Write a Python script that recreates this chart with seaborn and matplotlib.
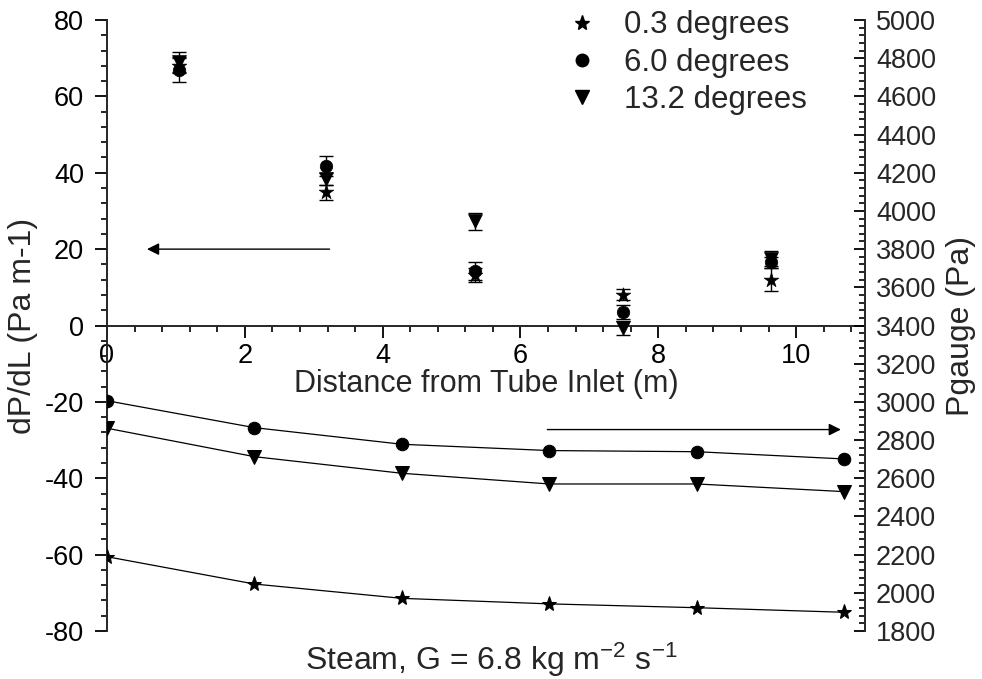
import numpy as np
import pandas as pd
import seaborn as sns
import matplotlib
matplotlib.use("Agg")
import matplotlib.pyplot as plt
from matplotlib.ticker import MultipleLocator
from matplotlib.lines import Line2D

# ---------------- data ----------------
angles = ["0.3 degrees", "6.0 degrees", "13.2 degrees"]
markers = ["*", "o", "v"]
msizes = [11, 9, 10]

# Pressure gradient (left axis)
x_grad = [1.04, 3.18, 5.34, 7.49, 9.64]
grad_03 = [68.0, 34.9, 13.3, 8.1, 12.0]
err_03 = [2.0, 2.0, 1.8, 1.5, 3.0]
grad_60 = [67.0, 41.8, 14.2, 3.5, 16.5]
err_60 = [3.2, 2.6, 2.3, 1.8, 1.5]
grad_132 = [69.0, 38.4, 27.3, -0.6, 17.5]
err_132 = [2.5, 1.5, 2.2, 1.8, 2.0]

# Gauge pressure (right axis)
x_pres = [0.0, 2.14, 4.28, 6.42, 8.56, 10.7]
pres_03 = [2189, 2046, 1971, 1942, 1922, 1898]
pres_60 = [3006, 2865, 2778, 2745, 2739, 2701]
pres_132 = [2862, 2713, 2626, 2570, 2570, 2530]

grads = [grad_03, grad_60, grad_132]
errs = [err_03, err_60, err_132]
press = [pres_03, pres_60, pres_132]

# ---------------- style ----------------
sns.set_theme(style="ticks")
plt.rcParams["font.family"] = ["Liberation Sans", "DejaVu Sans"]
plt.rcParams["axes.linewidth"] = 1.4
plt.rcParams["axes.unicode_minus"] = False
plt.rcParams["mathtext.fontset"] = "custom"
plt.rcParams["mathtext.rm"] = "Liberation Sans"
plt.rcParams["mathtext.default"] = "regular"
FS_TICK = 19.5
FS_XLAB = 22
FS_YLAB = 23
FS_LEG = 22.5

fig = plt.figure(figsize=(9.82, 6.79), dpi=100)
ax = fig.add_axes([107/982, 1-631/679, (865-107)/982, (631-20)/679])
ax2 = ax.twinx()

# upper: gradient with error bars
for g, e, m, ms in zip(grads, errs, markers, msizes):
    ax.errorbar(x_grad, g, yerr=e, fmt="none", ecolor="black",
                elinewidth=1.0, capsize=5, capthick=1.0, zorder=2)
    dfg = pd.DataFrame({"x": x_grad, "y": g})
    sns.scatterplot(data=dfg, x="x", y="y", marker=m, s=ms**2,
                    color="black", edgecolor="black", linewidth=0.5,
                    ax=ax, zorder=3, legend=False)

# lower: gauge pressure lines
for p, m, ms in zip(press, markers, msizes):
    dfp = pd.DataFrame({"x": x_pres, "y": p})
    sns.lineplot(data=dfp, x="x", y="y", marker=m, markersize=ms,
                 color="black", linewidth=0.9, markeredgecolor="black",
                 ax=ax2, legend=False)

# ---------------- axes ----------------
ax.set_xlim(0, 11)
ax.set_ylim(-80, 80)
ax2.set_ylim(1800, 5000)

ax.spines["bottom"].set_position(("data", 0))
ax.spines["top"].set_visible(False)
ax.spines["right"].set_visible(False)
ax2.spines["top"].set_visible(False)
ax2.spines["bottom"].set_visible(False)
ax2.spines["left"].set_visible(False)
for sp in ax2.spines.values():
    sp.set_linewidth(1.4)

ax.xaxis.set_major_locator(MultipleLocator(2))
ax.xaxis.set_minor_locator(MultipleLocator(0.4))
ax.yaxis.set_major_locator(MultipleLocator(20))
ax.yaxis.set_minor_locator(MultipleLocator(4))
ax2.yaxis.set_major_locator(MultipleLocator(200))
ax2.yaxis.set_minor_locator(MultipleLocator(40))

ax.tick_params(axis="both", which="major", direction="out", length=8.5,
               width=1.3, labelsize=FS_TICK, color="black", labelcolor="black")
ax.tick_params(axis="y", which="major", pad=8)
ax.tick_params(axis="x", which="major", pad=4)
ax.tick_params(axis="both", which="minor", direction="out", length=4.5,
               width=1.2, color="black")
ax.tick_params(axis="x", which="both", top=False)
ax.tick_params(axis="y", which="both", right=False)
ax2.tick_params(axis="y", which="major", direction="in", length=8,
                width=1.3, labelsize=FS_TICK, color="black", pad=8)
ax2.tick_params(axis="y", which="minor", direction="in", length=4.5,
                width=1.2, color="black")
ax2.set_xlabel("")

ax.set_xlabel("Distance from Tube Inlet (m)", fontsize=FS_XLAB, labelpad=0)
ax.set_ylabel("dP/dL (Pa m-1)", fontsize=FS_YLAB, labelpad=5)
ax2.set_ylabel("Pgauge (Pa)", fontsize=FS_YLAB, labelpad=7)

# arrows
ax.annotate("", xy=(0.58, 20), xytext=(3.23, 20),
            arrowprops=dict(arrowstyle="-|>", color="black", lw=1.0,
                            mutation_scale=18, shrinkA=0, shrinkB=0))
ax2.annotate("", xy=(10.65, 2855), xytext=(6.39, 2855),
             arrowprops=dict(arrowstyle="-|>", color="black", lw=1.0,
                             mutation_scale=18, shrinkA=0, shrinkB=0))

# legend
handles = [Line2D([], [], linestyle="none", marker=m, markersize=ms,
                  color="black") for m, ms in zip(markers, msizes)]
ax2.legend(handles, angles, loc="upper left", frameon=False, fontsize=FS_LEG,
           bbox_to_anchor=(554/982, 1+2/679), bbox_transform=fig.transFigure,
           handletextpad=0.85, labelspacing=0.23, borderaxespad=0,
           handlelength=1.0)

fig.text(491/982, 1-660/679, r"Steam, G = 6.8 kg m$^{-2}$ s$^{-1}$",
         fontsize=23, ha="center", va="center")

fig.savefig("out.png", dpi=100)
